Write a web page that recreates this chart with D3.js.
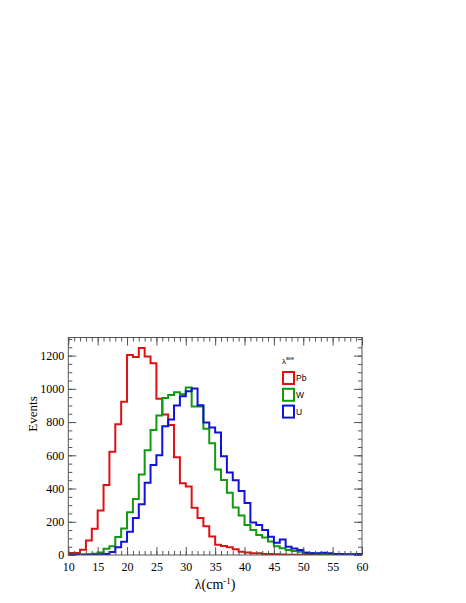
<!DOCTYPE html>
<html>
<head>
<meta charset="utf-8">
<script src="https://cdn.jsdelivr.net/npm/d3@7"></script>
<style>
  html, body { margin: 0; padding: 0; background: #fff; }
  svg { display: block; }
</style>
</head>
<body>
<svg id="chart" width="466" height="603"></svg>
<script>
// ---- data ----
const binLow = d3.range(10, 60);          // bin lower edges (width 1 cm^-1)
const binWidth = 1;
const seriesNames = ["Pb", "W", "U"];
const seriesColors = ["#dd1111", "#119911", "#1111dd"];
const pbValues = [12,12,32,88,158,268,421,622,787,923,
                  1204,1192,1246,1194,1154,940,845,783,588,432,
                  412,284,222,173,112,62,54,46,34,19,
                  15,10,10,6,6,4,3,2,2,1,
                  1,1,0,0,0,0,0,0,0,0];
const wValues  = [2,2,3,4,8,15,38,52,108,160,
                  258,337,484,630,753,840,945,963,980,968,
                  1008,893,893,760,672,514,452,375,286,238,
                  181,150,120,106,82,52,40,30,24,20,
                  14,10,8,6,6,5,4,3,3,2];
const uValues  = [1,1,2,2,3,4,6,18,46,80,
                  140,222,305,435,542,600,775,815,900,955,
                  985,1002,902,797,767,737,595,496,450,385,
                  313,195,181,151,110,74,94,50,39,30,
                  14,10,10,14,10,6,6,5,5,6];
const xTicks = [10,15,20,25,30,35,40,45,50,55,60];
const yTicks = [0,200,400,600,800,1000,1200];
const xDomain = [10, 60];
const yDomain = [0, 1309];

(function () {
// ---- layout ----
const svg = d3.select("#chart");
const pL = 68.3, pR = 362, pT = 337.5, pB = 555;
const x = d3.scaleLinear().domain(xDomain).range([pL, pR]);
const y = d3.scaleLinear().domain(yDomain).range([pB, pT]);
const axisColor = "#555";
const serif = "'Liberation Serif', 'Times New Roman', serif";
const sans = "'Liberation Sans', Arial, sans-serif";

// clip
svg.append("clipPath").attr("id", "plotclip")
  .append("rect").attr("x", pL).attr("y", pT - 2)
  .attr("width", pR - pL).attr("height", pB - pT + 2);

// histograms
const allSeries = [pbValues, wValues, uValues];
const line = d3.line().x(d => x(d[0])).y(d => y(d[1]));
allSeries.forEach((vals, si) => {
  const pts = [[binLow[0], 0]];
  vals.forEach((v, i) => {
    pts.push([binLow[i], v]);
    pts.push([binLow[i] + binWidth, v]);
  });
  pts.push([binLow[binLow.length - 1] + binWidth, 0]);
  svg.append("path")
    .attr("clip-path", "url(#plotclip)")
    .attr("d", line(pts))
    .attr("fill", "none")
    .attr("stroke", seriesColors[si])
    .attr("stroke-width", 2)
    .attr("stroke-linejoin", "miter");
});

// axes helper
function styleAxis(g) {
  g.select(".domain").remove();
  g.selectAll(".tick line").attr("stroke", axisColor).attr("stroke-width", 1);
  g.selectAll(".tick text").attr("fill", "#000").style("font-family", serif).style("font-size", "12px");
}
const xMinor = d3.range(10, 61, 1);
const yMinor = d3.range(0, 1301, 50);

// bottom
styleAxis(svg.append("g").attr("transform", `translate(0,${pB})`)
  .call(d3.axisBottom(x).tickValues(xMinor).tickSize(-4).tickFormat("")));
styleAxis(svg.append("g").attr("transform", `translate(0,${pB})`)
  .call(d3.axisBottom(x).tickValues(xTicks).tickSize(-8).tickPadding(7).tickFormat(d3.format("d"))));
// top
styleAxis(svg.append("g").attr("transform", `translate(0,${pT})`)
  .call(d3.axisTop(x).tickValues(xMinor).tickSize(-4).tickFormat("")));
styleAxis(svg.append("g").attr("transform", `translate(0,${pT})`)
  .call(d3.axisTop(x).tickValues(xTicks).tickSize(-8).tickFormat("")));
// left
styleAxis(svg.append("g").attr("transform", `translate(${pL},0)`)
  .call(d3.axisLeft(y).tickValues(yMinor).tickSize(-4).tickFormat("")));
styleAxis(svg.append("g").attr("transform", `translate(${pL},0)`)
  .call(d3.axisLeft(y).tickValues(yTicks).tickSize(-8).tickPadding(4).tickFormat(d3.format("d"))));
// right
styleAxis(svg.append("g").attr("transform", `translate(${pR},0)`)
  .call(d3.axisRight(y).tickValues(yMinor).tickSize(-4).tickFormat("")));
styleAxis(svg.append("g").attr("transform", `translate(${pR},0)`)
  .call(d3.axisRight(y).tickValues(yTicks).tickSize(-8).tickFormat("")));

// frame
svg.append("rect").attr("x", pL).attr("y", pT)
  .attr("width", pR - pL).attr("height", pB - pT)
  .attr("fill", "none").attr("stroke", axisColor).attr("stroke-width", 1);

// axis titles
const xt = svg.append("text")
  .attr("x", x(35)).attr("y", 589)
  .attr("text-anchor", "middle")
  .style("font-family", serif).style("font-size", "14px");
xt.append("tspan").text("λ(cm");
xt.append("tspan").attr("dy", -5).style("font-size", "9px").text("-1");
xt.append("tspan").attr("dy", 5).text(")");

svg.append("text")
  .attr("transform", `translate(37,414) rotate(-90)`)
  .attr("text-anchor", "middle")
  .style("font-family", serif).style("font-size", "13px")
  .text("Events");

// legend
const lg = svg.append("g");
const lt = lg.append("text").attr("x", 282).attr("y", 364)
  .style("font-family", sans).style("font-size", "8px");
lt.append("tspan").text("λ");
lt.append("tspan").attr("dy", -4).style("font-size", "5px").text("ave");
seriesNames.forEach((name, i) => {
  const cy = 378 + i * 16.8;
  lg.append("rect").attr("x", 283).attr("y", cy - 6)
    .attr("width", 11).attr("height", 12)
    .attr("fill", "none").attr("stroke", seriesColors[i]).attr("stroke-width", 2);
  lg.append("text").attr("x", 296).attr("y", cy + 3)
    .style("font-family", sans).style("font-size", "8.5px")
    .text(name);
});
})();
</script>
</body>
</html>
